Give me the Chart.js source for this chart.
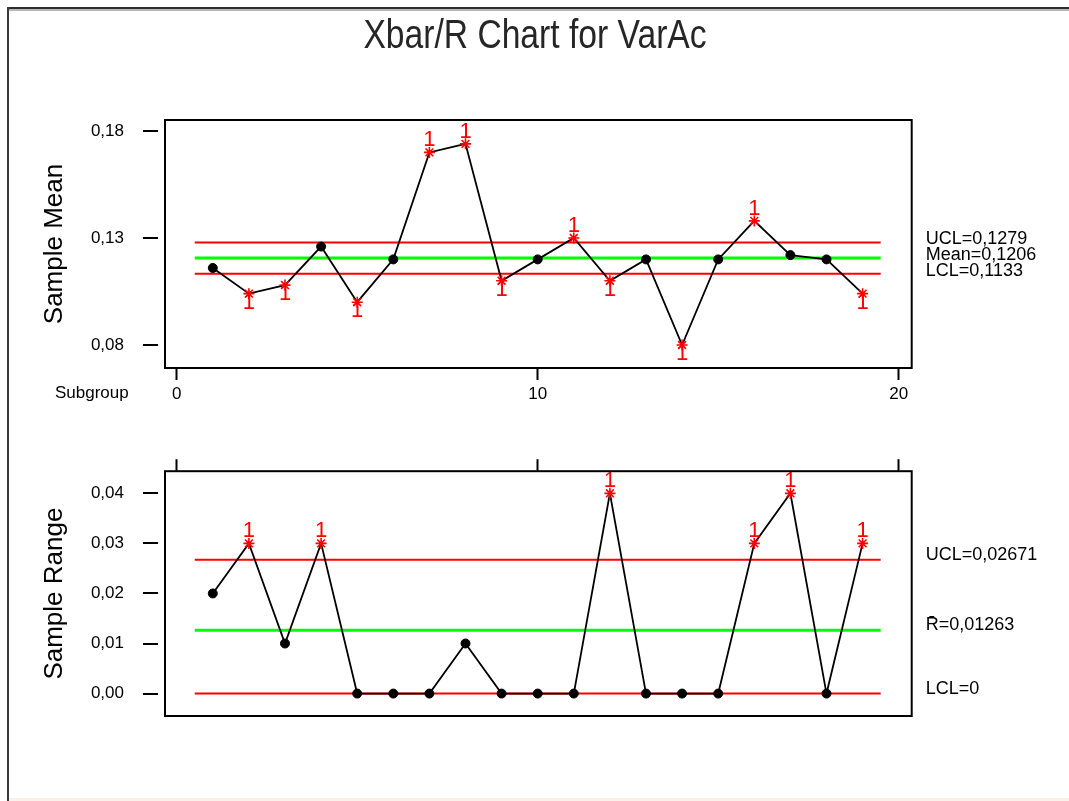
<!DOCTYPE html>
<html>
<head>
<meta charset="utf-8">
<title>Xbar/R Chart for VarAc</title>
<script src="https://cdn.jsdelivr.net/npm/chart.js@4.4.1/dist/chart.umd.min.js"></script>
<style>
  html, body { margin: 0; padding: 0; background: #fff; }
  body { width: 1069px; height: 801px; position: relative; overflow: hidden; }
  .rule { position: absolute; }
  #ruleTop { left: 7px; top: 7px; width: 1062px; height: 2px; background: #2e2e2e; }
  #ruleTopShade { left: 9px; top: 9px; width: 1060px; height: 2px; background: #b8b8b8; }
  #ruleLeft { left: 7px; top: 7px; width: 2px; height: 794px; background: #3a3a3a; }
  #ruleBottom { left: 9px; top: 798px; width: 1060px; height: 3px; background: #fcf1e8; }
  canvas { position: absolute; left: 0; }
  #meanChart { top: 0; }
  #rangeChart { top: 420px; }
</style>
</head>
<body>
<div class="rule" id="ruleTop"></div>
<div class="rule" id="ruleTopShade"></div>
<div class="rule" id="ruleLeft"></div>
<div class="rule" id="ruleBottom"></div>
<canvas id="meanChart" width="1069" height="420"></canvas>
<canvas id="rangeChart" width="1069" height="381"></canvas>
<script>
// ---- data ----
const chartTitle = 'Xbar/R Chart for VarAc';
const subgroups = [1, 2, 3, 4, 5, 6, 7, 8, 9, 10, 11, 12, 13, 14, 15, 16, 17, 18, 19];
const sampleMeans = [0.116, 0.104, 0.108, 0.126, 0.100, 0.120, 0.170, 0.174, 0.110, 0.120,
                     0.130, 0.110, 0.120, 0.080, 0.120, 0.138, 0.122, 0.120, 0.104];
const sampleRanges = [0.02, 0.03, 0.01, 0.03, 0.00, 0.00, 0.00, 0.01, 0.00, 0.00,
                      0.00, 0.04, 0.00, 0.00, 0.00, 0.03, 0.04, 0.00, 0.03];
// control limits: upper, centre, lower
const meanLimits = [0.1279, 0.1206, 0.1133];
const meanLimitNames = ['UCL', 'Mean', 'LCL'];
const rangeLimits = [0.02671, 0.01263, 0];
const rangeLimitNames = ['UCL', 'R\u0304', 'LCL'];
// axis ticks
const meanTicks = [0.08, 0.13, 0.18];
const rangeTicks = [0.00, 0.01, 0.02, 0.03, 0.04];
const subgroupTicks = [0, 10, 20];
const limitSpan = [0.5, 19.5];

const FONT = "'Liberation Sans', Arial, sans-serif";
const RED = '#ff0000';
const GREEN = '#00ff00';

const decimalComma = v => String(v).replace('.', ',');

// frame round the plotting area
const boxPlugin = {
  id: 'plotBox',
  afterDraw(chart) {
    const a = chart.chartArea, ctx = chart.ctx;
    ctx.save();
    ctx.strokeStyle = '#000';
    ctx.lineWidth = 2;
    ctx.strokeRect(a.left, a.top, a.right - a.left, a.bottom - a.top);
    ctx.restore();
  }
};

// y tick marks stand a little apart from the frame
const yTickPlugin = {
  id: 'detachedYTicks',
  afterDraw(chart) {
    const s = chart.scales.y, a = chart.chartArea, ctx = chart.ctx;
    ctx.save();
    ctx.strokeStyle = '#000';
    ctx.lineWidth = 2;
    s.ticks.forEach(t => {
      const y = Math.round(s.getPixelForValue(t.value));
      ctx.beginPath();
      ctx.moveTo(a.left - 22, y);
      ctx.lineTo(a.left - 7, y);
      ctx.stroke();
    });
    ctx.restore();
  }
};

// test-1 flags next to the out-of-control points
const flagPlugin = {
  id: 'testFlags',
  afterDatasetsDraw(chart, args, opts) {
    const meta = chart.getDatasetMeta(0);
    const vals = chart.data.datasets[0].data;
    const ctx = chart.ctx;
    ctx.save();
    ctx.fillStyle = RED;
    ctx.font = '22px ' + FONT;
    ctx.textAlign = 'center';
    ctx.textBaseline = 'alphabetic';
    meta.data.forEach((pt, i) => {
      const v = vals[i].y;
      if (v > opts.ucl) ctx.fillText('1', pt.x, pt.y - 6);
      else if (v < opts.lcl) ctx.fillText('1', pt.x, pt.y + 15);
    });
    ctx.restore();
  }
};

// chart heading and the subgroup caption
const headingPlugin = {
  id: 'heading',
  afterDraw(chart, args, opts) {
    if (!opts.text) return;
    const ctx = chart.ctx;
    ctx.save();
    ctx.fillStyle = '#262626';
    ctx.textBaseline = 'middle';
    ctx.textAlign = 'center';
    ctx.translate(535, 37);
    ctx.scale(0.82, 1);
    ctx.font = '41px ' + FONT;
    ctx.fillText(opts.text, 0, 0);
    ctx.restore();
    if (opts.caption) {
      const x = chart.scales.x;
      ctx.save();
      ctx.fillStyle = '#000';
      ctx.font = '17px ' + FONT;
      ctx.textAlign = 'left';
      ctx.textBaseline = 'middle';
      ctx.fillText(opts.caption, 55, x.top + 25);
      ctx.restore();
    }
  }
};

function buildChart(id, cfg) {
  const ucl = cfg.limits[0], lcl = cfg.limits[2];
  const flagged = cfg.values.map(v => v > ucl || v < lcl);
  const limitLine = (v, color, width) => ({
    data: limitSpan.map(x => ({ x: x, y: v })),
    borderColor: color,
    borderWidth: width,
    pointRadius: 0,
    fill: false
  });
  return new Chart(document.getElementById(id), {
    type: 'line',
    data: {
      datasets: [
        {
          data: subgroups.map((s, i) => ({ x: s, y: cfg.values[i] })),
          borderColor: '#000',
          borderWidth: 1.8,
          pointStyle: flagged.map(f => f ? 'star' : 'circle'),
          pointRadius: flagged.map(f => f ? 5.5 : 4.5),
          pointBackgroundColor: flagged.map(f => f ? RED : '#000'),
          pointBorderColor: flagged.map(f => f ? RED : '#000'),
          pointBorderWidth: flagged.map(f => f ? 1.6 : 1),
          fill: false
        },
        limitLine(cfg.limits[0], RED, 2),
        limitLine(cfg.limits[1], GREEN, 3),
        limitLine(cfg.limits[2], RED, 2)
      ]
    },
    options: {
      responsive: false,
      animation: false,
      devicePixelRatio: 1,
      events: [],
      layout: { padding: cfg.padding },
      plugins: {
        legend: { display: false },
        tooltip: { enabled: false },
        title: { display: false },
        testFlags: { ucl: ucl, lcl: lcl },
        heading: { text: cfg.heading, caption: cfg.caption }
      },
      scales: {
        x: {
          type: 'linear',
          position: cfg.xPosition,
          min: -0.324,
          max: 20.36,
          afterBuildTicks: a => { a.ticks = subgroupTicks.map(v => ({ value: v })); },
          ticks: {
            display: cfg.xLabels,
            autoSkip: false,
            maxRotation: 0,
            padding: 4,
            font: { family: FONT, size: 17 },
            color: '#000',
            callback: v => String(v)
          },
          grid: { display: true, drawOnChartArea: false, drawTicks: true, tickLength: 12, tickWidth: 2, tickColor: '#000' },
          border: { display: false },
          afterFit: s => { s.height = cfg.xHeight; }
        },
        y: {
          type: 'linear',
          position: 'left',
          min: cfg.yMin,
          max: cfg.yMax,
          afterBuildTicks: a => { a.ticks = cfg.yTicks.map(v => ({ value: v })); },
          ticks: {
            autoSkip: false,
            padding: 41,
            font: { family: FONT, size: 17 },
            color: '#000',
            callback: v => v.toFixed(2).replace('.', ',')
          },
          grid: { display: false, drawTicks: false },
          border: { display: false },
          title: {
            display: true,
            text: cfg.yTitle,
            font: { family: FONT, size: 26 },
            color: '#000',
            padding: { top: 39, bottom: 0 }
          },
          afterFit: s => { s.width = 165; }
        },
        limits: {
          type: 'linear',
          position: 'right',
          min: cfg.yMin,
          max: cfg.yMax,
          afterBuildTicks: a => { a.ticks = cfg.limits.map(v => ({ value: v })); },
          ticks: {
            autoSkip: false,
            padding: 14,
            labelOffset: cfg.labelOffset,
            font: { family: FONT, size: 18 },
            color: '#000',
            callback: v => cfg.limitNames[cfg.limits.indexOf(v)] + '=' + decimalComma(v)
          },
          grid: { display: false, drawTicks: false },
          border: { display: false },
          afterFit: s => { s.width = 157.3; }
        }
      }
    },
    plugins: [yTickPlugin, boxPlugin, flagPlugin, headingPlugin]
  });
}

// Xbar chart: sample means
buildChart('meanChart', {
  values: sampleMeans,
  limits: meanLimits,
  limitNames: meanLimitNames,
  yTicks: meanTicks,
  yMin: 0.06925,
  yMax: 0.18514,
  yTitle: 'Sample Mean',
  xPosition: 'bottom',
  xLabels: true,
  xHeight: 52,
  labelOffset: -3,
  padding: { top: 120, left: 0, right: 0, bottom: 0 },
  heading: chartTitle,
  caption: 'Subgroup'
});

// R chart: sample ranges
buildChart('rangeChart', {
  values: sampleRanges,
  limits: rangeLimits,
  limitNames: rangeLimitNames,
  yTicks: rangeTicks,
  yMin: -0.00448,
  yMax: 0.04442,
  yTitle: 'Sample Range',
  xPosition: 'top',
  xLabels: false,
  xHeight: 48.3,
  labelOffset: -5,
  padding: { top: 0, left: 0, right: 0, bottom: 85 },
  heading: null,
  caption: null
});
</script>
</body>
</html>
